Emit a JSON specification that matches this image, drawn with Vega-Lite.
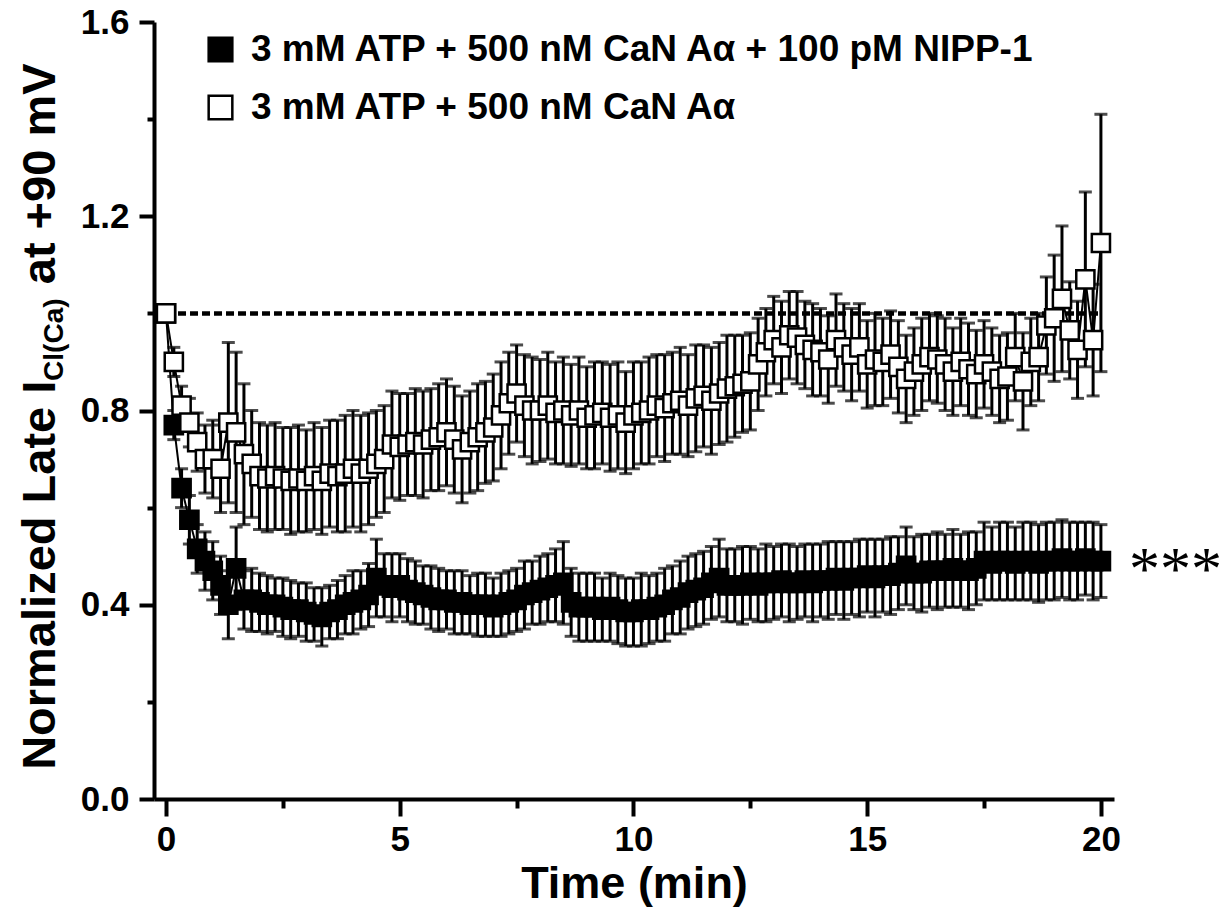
{
  "$schema": "https://vega.github.io/schema/vega-lite/v6.json",
  "width": 960,
  "height": 777,
  "autosize": {"type": "none"},
  "padding": {"left": 154, "top": 22, "right": 118, "bottom": 112},
  "background": "white",
  "config": {"view": {"stroke": null}, "font": "Liberation Sans"},
  "datasets": {
    "series": [
      {"g":"N","t":0,"m":1.0,"e":0},
      {"g":"N","t":0.167,"m":0.77,"e":0.03},
      {"g":"N","t":0.333,"m":0.64,"e":0.04},
      {"g":"N","t":0.5,"m":0.575,"e":0.05},
      {"g":"N","t":0.667,"m":0.515,"e":0.05},
      {"g":"N","t":0.833,"m":0.49,"e":0.06},
      {"g":"N","t":1,"m":0.47,"e":0.06},
      {"g":"N","t":1.167,"m":0.44,"e":0.06},
      {"g":"N","t":1.333,"m":0.40,"e":0.07},
      {"g":"N","t":1.5,"m":0.475,"e":0.085},
      {"g":"N","t":1.667,"m":0.41,"e":0.06},
      {"g":"N","t":1.833,"m":0.41,"e":0.065},
      {"g":"N","t":2,"m":0.405,"e":0.06},
      {"g":"N","t":2.167,"m":0.40,"e":0.06},
      {"g":"N","t":2.333,"m":0.40,"e":0.055},
      {"g":"N","t":2.5,"m":0.395,"e":0.06},
      {"g":"N","t":2.667,"m":0.39,"e":0.06},
      {"g":"N","t":2.833,"m":0.39,"e":0.055},
      {"g":"N","t":3,"m":0.385,"e":0.06},
      {"g":"N","t":3.167,"m":0.38,"e":0.055},
      {"g":"N","t":3.333,"m":0.375,"e":0.06},
      {"g":"N","t":3.5,"m":0.385,"e":0.055},
      {"g":"N","t":3.667,"m":0.39,"e":0.06},
      {"g":"N","t":3.833,"m":0.40,"e":0.06},
      {"g":"N","t":4,"m":0.405,"e":0.065},
      {"g":"N","t":4.167,"m":0.41,"e":0.06},
      {"g":"N","t":4.333,"m":0.42,"e":0.065},
      {"g":"N","t":4.5,"m":0.455,"e":0.08},
      {"g":"N","t":4.667,"m":0.44,"e":0.065},
      {"g":"N","t":4.833,"m":0.435,"e":0.07},
      {"g":"N","t":5,"m":0.44,"e":0.065},
      {"g":"N","t":5.167,"m":0.43,"e":0.065},
      {"g":"N","t":5.333,"m":0.425,"e":0.065},
      {"g":"N","t":5.5,"m":0.42,"e":0.06},
      {"g":"N","t":5.667,"m":0.415,"e":0.065},
      {"g":"N","t":5.833,"m":0.41,"e":0.065},
      {"g":"N","t":6,"m":0.41,"e":0.06},
      {"g":"N","t":6.167,"m":0.405,"e":0.065},
      {"g":"N","t":6.333,"m":0.405,"e":0.065},
      {"g":"N","t":6.5,"m":0.40,"e":0.06},
      {"g":"N","t":6.667,"m":0.40,"e":0.065},
      {"g":"N","t":6.833,"m":0.40,"e":0.065},
      {"g":"N","t":7,"m":0.395,"e":0.06},
      {"g":"N","t":7.167,"m":0.40,"e":0.065},
      {"g":"N","t":7.333,"m":0.405,"e":0.065},
      {"g":"N","t":7.5,"m":0.41,"e":0.065},
      {"g":"N","t":7.667,"m":0.42,"e":0.07},
      {"g":"N","t":7.833,"m":0.425,"e":0.065},
      {"g":"N","t":8,"m":0.43,"e":0.07},
      {"g":"N","t":8.167,"m":0.435,"e":0.07},
      {"g":"N","t":8.333,"m":0.44,"e":0.075},
      {"g":"N","t":8.5,"m":0.445,"e":0.085},
      {"g":"N","t":8.667,"m":0.405,"e":0.07},
      {"g":"N","t":8.833,"m":0.395,"e":0.07},
      {"g":"N","t":9,"m":0.395,"e":0.07},
      {"g":"N","t":9.167,"m":0.395,"e":0.07},
      {"g":"N","t":9.333,"m":0.39,"e":0.065},
      {"g":"N","t":9.5,"m":0.395,"e":0.07},
      {"g":"N","t":9.667,"m":0.39,"e":0.07},
      {"g":"N","t":9.833,"m":0.385,"e":0.07},
      {"g":"N","t":10,"m":0.385,"e":0.07},
      {"g":"N","t":10.167,"m":0.39,"e":0.075},
      {"g":"N","t":10.333,"m":0.39,"e":0.07},
      {"g":"N","t":10.5,"m":0.395,"e":0.07},
      {"g":"N","t":10.667,"m":0.40,"e":0.075},
      {"g":"N","t":10.833,"m":0.41,"e":0.07},
      {"g":"N","t":11,"m":0.415,"e":0.075},
      {"g":"N","t":11.167,"m":0.425,"e":0.075},
      {"g":"N","t":11.333,"m":0.43,"e":0.075},
      {"g":"N","t":11.5,"m":0.435,"e":0.075},
      {"g":"N","t":11.667,"m":0.445,"e":0.075},
      {"g":"N","t":11.833,"m":0.455,"e":0.08},
      {"g":"N","t":12,"m":0.44,"e":0.075},
      {"g":"N","t":12.167,"m":0.44,"e":0.075},
      {"g":"N","t":12.333,"m":0.44,"e":0.08},
      {"g":"N","t":12.5,"m":0.445,"e":0.075},
      {"g":"N","t":12.667,"m":0.44,"e":0.075},
      {"g":"N","t":12.833,"m":0.445,"e":0.08},
      {"g":"N","t":13,"m":0.445,"e":0.075},
      {"g":"N","t":13.167,"m":0.45,"e":0.075},
      {"g":"N","t":13.333,"m":0.445,"e":0.08},
      {"g":"N","t":13.5,"m":0.445,"e":0.075},
      {"g":"N","t":13.667,"m":0.45,"e":0.075},
      {"g":"N","t":13.833,"m":0.445,"e":0.08},
      {"g":"N","t":14,"m":0.45,"e":0.075},
      {"g":"N","t":14.167,"m":0.45,"e":0.08},
      {"g":"N","t":14.333,"m":0.455,"e":0.075},
      {"g":"N","t":14.5,"m":0.45,"e":0.08},
      {"g":"N","t":14.667,"m":0.455,"e":0.075},
      {"g":"N","t":14.833,"m":0.455,"e":0.08},
      {"g":"N","t":15,"m":0.46,"e":0.075},
      {"g":"N","t":15.167,"m":0.455,"e":0.08},
      {"g":"N","t":15.333,"m":0.46,"e":0.075},
      {"g":"N","t":15.5,"m":0.46,"e":0.08},
      {"g":"N","t":15.667,"m":0.465,"e":0.075},
      {"g":"N","t":15.833,"m":0.48,"e":0.08},
      {"g":"N","t":16,"m":0.465,"e":0.075},
      {"g":"N","t":16.167,"m":0.465,"e":0.08},
      {"g":"N","t":16.333,"m":0.47,"e":0.075},
      {"g":"N","t":16.5,"m":0.47,"e":0.08},
      {"g":"N","t":16.667,"m":0.47,"e":0.075},
      {"g":"N","t":16.833,"m":0.475,"e":0.08},
      {"g":"N","t":17,"m":0.47,"e":0.075},
      {"g":"N","t":17.167,"m":0.47,"e":0.08},
      {"g":"N","t":17.333,"m":0.475,"e":0.075},
      {"g":"N","t":17.5,"m":0.49,"e":0.08},
      {"g":"N","t":17.667,"m":0.485,"e":0.075},
      {"g":"N","t":17.833,"m":0.49,"e":0.08},
      {"g":"N","t":18,"m":0.49,"e":0.08},
      {"g":"N","t":18.167,"m":0.485,"e":0.075},
      {"g":"N","t":18.333,"m":0.49,"e":0.08},
      {"g":"N","t":18.5,"m":0.49,"e":0.08},
      {"g":"N","t":18.667,"m":0.485,"e":0.08},
      {"g":"N","t":18.833,"m":0.49,"e":0.08},
      {"g":"N","t":19,"m":0.49,"e":0.08},
      {"g":"N","t":19.167,"m":0.495,"e":0.08},
      {"g":"N","t":19.333,"m":0.49,"e":0.08},
      {"g":"N","t":19.5,"m":0.49,"e":0.08},
      {"g":"N","t":19.667,"m":0.495,"e":0.075},
      {"g":"N","t":19.833,"m":0.49,"e":0.08},
      {"g":"N","t":20,"m":0.49,"e":0.075},
      {"g":"C","t":0,"m":1.0,"e":0},
      {"g":"C","t":0.167,"m":0.90,"e":0.03},
      {"g":"C","t":0.333,"m":0.81,"e":0.04},
      {"g":"C","t":0.5,"m":0.775,"e":0.05},
      {"g":"C","t":0.667,"m":0.735,"e":0.06},
      {"g":"C","t":0.833,"m":0.70,"e":0.07},
      {"g":"C","t":1,"m":0.70,"e":0.08},
      {"g":"C","t":1.167,"m":0.68,"e":0.09},
      {"g":"C","t":1.333,"m":0.775,"e":0.165},
      {"g":"C","t":1.5,"m":0.755,"e":0.165},
      {"g":"C","t":1.667,"m":0.71,"e":0.145},
      {"g":"C","t":1.833,"m":0.69,"e":0.11},
      {"g":"C","t":2,"m":0.665,"e":0.11},
      {"g":"C","t":2.167,"m":0.66,"e":0.11},
      {"g":"C","t":2.333,"m":0.665,"e":0.11},
      {"g":"C","t":2.5,"m":0.66,"e":0.105},
      {"g":"C","t":2.667,"m":0.655,"e":0.11},
      {"g":"C","t":2.833,"m":0.66,"e":0.11},
      {"g":"C","t":3,"m":0.655,"e":0.105},
      {"g":"C","t":3.167,"m":0.665,"e":0.11},
      {"g":"C","t":3.333,"m":0.655,"e":0.11},
      {"g":"C","t":3.5,"m":0.67,"e":0.11},
      {"g":"C","t":3.667,"m":0.665,"e":0.115},
      {"g":"C","t":3.833,"m":0.67,"e":0.12},
      {"g":"C","t":4,"m":0.68,"e":0.12},
      {"g":"C","t":4.167,"m":0.67,"e":0.12},
      {"g":"C","t":4.333,"m":0.68,"e":0.115},
      {"g":"C","t":4.5,"m":0.69,"e":0.11},
      {"g":"C","t":4.667,"m":0.70,"e":0.11},
      {"g":"C","t":4.833,"m":0.73,"e":0.11},
      {"g":"C","t":5,"m":0.725,"e":0.11},
      {"g":"C","t":5.167,"m":0.73,"e":0.105},
      {"g":"C","t":5.333,"m":0.735,"e":0.11},
      {"g":"C","t":5.5,"m":0.73,"e":0.11},
      {"g":"C","t":5.667,"m":0.74,"e":0.105},
      {"g":"C","t":5.833,"m":0.745,"e":0.11},
      {"g":"C","t":6,"m":0.755,"e":0.11},
      {"g":"C","t":6.167,"m":0.74,"e":0.11},
      {"g":"C","t":6.333,"m":0.72,"e":0.11},
      {"g":"C","t":6.5,"m":0.735,"e":0.105},
      {"g":"C","t":6.667,"m":0.745,"e":0.11},
      {"g":"C","t":6.833,"m":0.755,"e":0.105},
      {"g":"C","t":7,"m":0.765,"e":0.11},
      {"g":"C","t":7.167,"m":0.79,"e":0.11},
      {"g":"C","t":7.333,"m":0.815,"e":0.105},
      {"g":"C","t":7.5,"m":0.835,"e":0.1},
      {"g":"C","t":7.667,"m":0.81,"e":0.105},
      {"g":"C","t":7.833,"m":0.80,"e":0.11},
      {"g":"C","t":8,"m":0.80,"e":0.105},
      {"g":"C","t":8.167,"m":0.81,"e":0.11},
      {"g":"C","t":8.333,"m":0.795,"e":0.105},
      {"g":"C","t":8.5,"m":0.80,"e":0.11},
      {"g":"C","t":8.667,"m":0.79,"e":0.105},
      {"g":"C","t":8.833,"m":0.80,"e":0.11},
      {"g":"C","t":9,"m":0.785,"e":0.105},
      {"g":"C","t":9.167,"m":0.79,"e":0.11},
      {"g":"C","t":9.333,"m":0.795,"e":0.105},
      {"g":"C","t":9.5,"m":0.785,"e":0.11},
      {"g":"C","t":9.667,"m":0.79,"e":0.11},
      {"g":"C","t":9.833,"m":0.775,"e":0.105},
      {"g":"C","t":10,"m":0.79,"e":0.11},
      {"g":"C","t":10.167,"m":0.795,"e":0.105},
      {"g":"C","t":10.333,"m":0.80,"e":0.11},
      {"g":"C","t":10.5,"m":0.81,"e":0.105},
      {"g":"C","t":10.667,"m":0.805,"e":0.11},
      {"g":"C","t":10.833,"m":0.815,"e":0.105},
      {"g":"C","t":11,"m":0.82,"e":0.11},
      {"g":"C","t":11.167,"m":0.81,"e":0.105},
      {"g":"C","t":11.333,"m":0.825,"e":0.11},
      {"g":"C","t":11.5,"m":0.83,"e":0.105},
      {"g":"C","t":11.667,"m":0.82,"e":0.11},
      {"g":"C","t":11.833,"m":0.835,"e":0.105},
      {"g":"C","t":12,"m":0.845,"e":0.11},
      {"g":"C","t":12.167,"m":0.85,"e":0.105},
      {"g":"C","t":12.333,"m":0.855,"e":0.1},
      {"g":"C","t":12.5,"m":0.86,"e":0.1},
      {"g":"C","t":12.667,"m":0.895,"e":0.095},
      {"g":"C","t":12.833,"m":0.92,"e":0.09},
      {"g":"C","t":13,"m":0.945,"e":0.09},
      {"g":"C","t":13.167,"m":0.93,"e":0.095},
      {"g":"C","t":13.333,"m":0.955,"e":0.09},
      {"g":"C","t":13.5,"m":0.95,"e":0.095},
      {"g":"C","t":13.667,"m":0.935,"e":0.09},
      {"g":"C","t":13.833,"m":0.925,"e":0.095},
      {"g":"C","t":14,"m":0.92,"e":0.09},
      {"g":"C","t":14.167,"m":0.905,"e":0.09},
      {"g":"C","t":14.333,"m":0.945,"e":0.095},
      {"g":"C","t":14.5,"m":0.93,"e":0.09},
      {"g":"C","t":14.667,"m":0.915,"e":0.095},
      {"g":"C","t":14.833,"m":0.93,"e":0.09},
      {"g":"C","t":15,"m":0.895,"e":0.09},
      {"g":"C","t":15.167,"m":0.905,"e":0.095},
      {"g":"C","t":15.333,"m":0.90,"e":0.09},
      {"g":"C","t":15.5,"m":0.915,"e":0.09},
      {"g":"C","t":15.667,"m":0.89,"e":0.095},
      {"g":"C","t":15.833,"m":0.865,"e":0.09},
      {"g":"C","t":16,"m":0.88,"e":0.09},
      {"g":"C","t":16.167,"m":0.895,"e":0.095},
      {"g":"C","t":16.333,"m":0.91,"e":0.09},
      {"g":"C","t":16.5,"m":0.905,"e":0.09},
      {"g":"C","t":16.667,"m":0.895,"e":0.095},
      {"g":"C","t":16.833,"m":0.88,"e":0.09},
      {"g":"C","t":17,"m":0.90,"e":0.09},
      {"g":"C","t":17.167,"m":0.885,"e":0.095},
      {"g":"C","t":17.333,"m":0.875,"e":0.09},
      {"g":"C","t":17.5,"m":0.895,"e":0.09},
      {"g":"C","t":17.667,"m":0.88,"e":0.09},
      {"g":"C","t":17.833,"m":0.865,"e":0.09},
      {"g":"C","t":18,"m":0.87,"e":0.09},
      {"g":"C","t":18.167,"m":0.91,"e":0.09},
      {"g":"C","t":18.333,"m":0.86,"e":0.1},
      {"g":"C","t":18.5,"m":0.90,"e":0.09},
      {"g":"C","t":18.667,"m":0.91,"e":0.09},
      {"g":"C","t":18.833,"m":0.975,"e":0.1},
      {"g":"C","t":19,"m":0.99,"e":0.13},
      {"g":"C","t":19.167,"m":1.03,"e":0.15},
      {"g":"C","t":19.333,"m":0.965,"e":0.1},
      {"g":"C","t":19.5,"m":0.925,"e":0.1},
      {"g":"C","t":19.667,"m":1.07,"e":0.18},
      {"g":"C","t":19.833,"m":0.945,"e":0.115},
      {"g":"C","t":20,"m":1.145,"e":0.265}
    ]
  },
  "data": {"name": "series"},
  "layer": [
    {
      "data": {"values": [{}]},
      "mark": {"type": "rule", "strokeDash": [8, 4], "strokeWidth": 4.5, "color": "black"},
      "encoding": {
        "x": {"datum": 0, "type": "quantitative"},
        "x2": {"datum": 20},
        "y": {"datum": 1, "type": "quantitative"}
      }
    },
    {
      "mark": {"type": "errorbar", "color": "black", "ticks": {"size": 13, "thickness": 3, "color": "black"}, "rule": {"strokeWidth": 3, "color": "black"}},
      "encoding": {
        "x": {"field": "t", "type": "quantitative", "scale": {"domain": [-0.257, 20.28], "nice": false, "zero": false}, "title": "Time (min)"},
        "y": {"field": "m", "type": "quantitative", "scale": {"domain": [0, 1.6], "nice": false}, "title": null},
        "yError": {"field": "e"},
        "detail": {"field": "g"}
      }
    },
    {
      "mark": {"type": "line", "color": "black", "strokeWidth": 2},
      "encoding": {
        "x": {"field": "t", "type": "quantitative", "title": "Time (min)"},
        "y": {"field": "m", "type": "quantitative", "title": null},
        "detail": {"field": "g"}
      }
    },
    {
      "mark": {"type": "point", "shape": "square", "size": 330, "stroke": "black", "strokeWidth": 2.5, "opacity": 1, "fillOpacity": 1, "strokeOpacity": 1},
      "encoding": {
        "x": {
          "field": "t", "type": "quantitative", "title": "Time (min)",
          "axis": {
            "values": [0, 2.5, 5, 7.5, 10, 12.5, 15, 17.5, 20],
            "labelExpr": "datum.value % 5 === 0 ? datum.label : ''",
            "tickSize": {"condition": {"test": "datum.value % 5 === 0", "value": 17}, "value": 9},
            "grid": false, "domainWidth": 4, "domainColor": "black", "tickWidth": 4, "tickColor": "black",
            "labelFont": "Liberation Sans", "labelFontSize": 35, "labelFontWeight": "bold", "labelColor": "black", "labelPadding": 6, "labelFlush": false,
            "titleFont": "Liberation Sans", "titleFontSize": 45, "titleFontWeight": "bold", "titleColor": "black", "titlePadding": 4
          }
        },
        "y": {
          "field": "m", "type": "quantitative", "title": null,
          "axis": {
            "values": [0, 0.2, 0.4, 0.6, 0.8, 1.0, 1.2, 1.4, 1.6],
            "labelExpr": "round(datum.value * 10) % 4 === 0 ? format(datum.value, '.1f') : ''",
            "tickSize": {"condition": {"test": "round(datum.value * 10) % 4 === 0", "value": 15}, "value": 7},
            "grid": false, "domainWidth": 4, "domainColor": "black", "tickWidth": 4, "tickColor": "black",
            "labelFont": "Liberation Sans", "labelFontSize": 35, "labelFontWeight": "bold", "labelColor": "black", "labelPadding": 10, "labelFlush": false
          }
        },
        "fill": {
          "field": "g", "type": "nominal",
          "scale": {"domain": ["N", "C"], "range": ["black", "white"]},
          "legend": {
            "orient": "none", "legendX": 48, "legendY": 9, "title": null,
            "symbolType": "square", "symbolSize": 560, "symbolStrokeColor": "black", "symbolStrokeWidth": 2.5, "symbolOpacity": 1,
            "labelFont": "Liberation Sans", "labelFontSize": 37, "labelFontWeight": "bold", "labelColor": "black", "labelLimit": 2000, "labelOffset": 12,
            "rowPadding": 20,
            "labelExpr": "datum.label == 'N' ? '3 mM ATP + 500 nM CaN Aα + 100 pM NIPP-1' : '3 mM ATP + 500 nM CaN Aα'"
          }
        }
      }
    },
    {
      "data": {"values": [{}]},
      "mark": {"type": "text", "text": "Normalized Late I", "font": "Liberation Sans", "fontWeight": "bold", "fontSize": 47, "angle": 270, "align": "left", "baseline": "alphabetic", "color": "black"},
      "encoding": {"x": {"datum": -2.374, "type": "quantitative"}, "y": {"datum": 0.06, "type": "quantitative"}}
    },
    {
      "data": {"values": [{}]},
      "mark": {"type": "text", "text": "Cl(Ca)", "font": "Liberation Sans", "fontWeight": "bold", "fontSize": 28, "angle": 270, "align": "left", "baseline": "alphabetic", "color": "black"},
      "encoding": {"x": {"datum": -2.2, "type": "quantitative"}, "y": {"datum": 0.861, "type": "quantitative"}}
    },
    {
      "data": {"values": [{}]},
      "mark": {"type": "text", "text": "at +90 mV", "font": "Liberation Sans", "fontWeight": "bold", "fontSize": 47, "angle": 270, "align": "left", "baseline": "alphabetic", "color": "black"},
      "encoding": {"x": {"datum": -2.374, "type": "quantitative"}, "y": {"datum": 1.06, "type": "quantitative"}}
    },
    {
      "data": {"values": [{}]},
      "mark": {"type": "text", "text": "***", "font": "Liberation Serif", "fontSize": 62, "align": "left", "baseline": "alphabetic", "dy": 28, "color": "black"},
      "encoding": {"x": {"datum": 20.6, "type": "quantitative"}, "y": {"datum": 0.49, "type": "quantitative"}}
    }
  ]
}
